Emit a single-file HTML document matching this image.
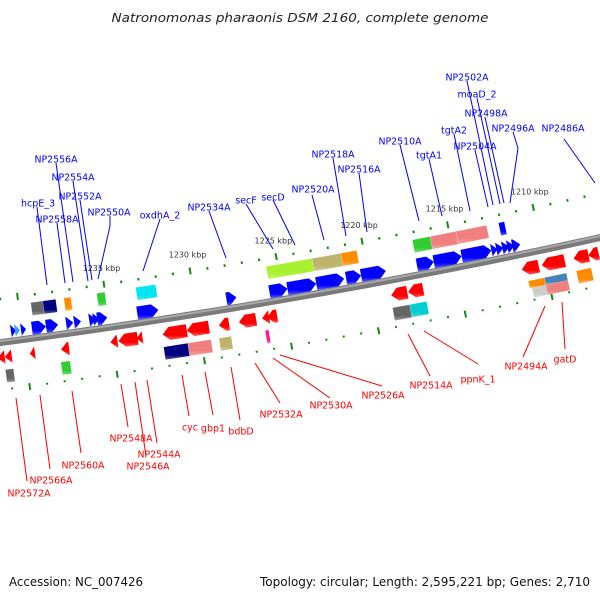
<!DOCTYPE html>
<html><head><meta charset="utf-8">
<style>
html,body{margin:0;padding:0;background:#fff;}
svg{display:block;}
text{font-family:"DejaVu Sans","Liberation Sans",sans-serif;}
</style></head>
<body>
<svg id="map" width="600" height="600" viewBox="0 0 600 600" xmlns="http://www.w3.org/2000/svg">
<defs id="defs"></defs>
<text x="300" y="22" text-anchor="middle" font-size="12" font-style="italic" fill="#222" textLength="377" lengthAdjust="spacingAndGlyphs">Natronomonas pharaonis DSM 2160, complete genome</text>
<g id="backbone-layer"></g>
<g id="tick-layer"></g>
<g id="gene-layer"></g>
<g id="label-layer"></g>
<text x="9" y="586" font-size="12" fill="#111" textLength="134" lengthAdjust="spacingAndGlyphs">Accession: NC_007426</text>
<text x="590" y="586" text-anchor="end" font-size="12" fill="#111" textLength="330" lengthAdjust="spacingAndGlyphs">Topology: circular; Length: 2,595,221 bp; Genes: 2,710</text>
</svg>
<script>
// ---- data (kbp) ----
const tickStart = 1204;
const tickEnd = 1243;
const tickLabelKbp = [1235, 1230, 1225, 1220, 1215, 1210];
const fwd1Genes = [[1240.64,1240.35],[1240.41,1240.12],[1240.06,1239.77],[1239.43,1238.62],[1238.62,1237.92],[1237.46,1237.05],[1237.0,1236.6],[1236.13,1235.73],[1235.9,1235.55],[1235.67,1235.09],[1233.36,1232.14],[1228.21,1227.63],[1225.72,1224.68],[1224.68,1223.01],[1223.01,1221.39],[1221.28,1220.41],[1220.41,1218.97],[1217.17,1216.19],[1216.19,1214.57],[1214.57,1212.84],[1212.84,1212.49],[1212.55,1212.15],[1212.2,1211.8],[1211.91,1211.51],[1211.62,1211.16]];
const fwd1Colors = ["#0000ff","#3ca0ff","#0000ff","#0000ff","#0000ff","#0000ff","#0000ff","#0000ff","#0000ff","#0000ff","#0000ff","#0000ff","#0000ff","#0000ff","#0000ff","#0000ff","#0000ff","#0000ff","#0000ff","#0000ff","#0000ff","#0000ff","#0000ff","#0000ff","#0000ff"];
const fwd2Genes = [[1239.30,1238.61],[1238.61,1237.86],[1237.39,1236.99],[1235.49,1235.02],[1233.23,1232.08],[1225.66,1223.0],[1223.0,1221.32],[1221.32,1220.4],[1217.16,1216.12],[1216.12,1214.62],[1214.62,1212.83],[1212.13,1211.79]];
const fwd2Colors = ["#666666","#000080","#ff8c00","#33cc33","#00e5ee","#a8f030","#bdb46b","#ff8c00","#33cc33","#f08080","#f08080","#0000ff"];
const rev1Genes = [[1241.59,1241.18],[1241.18,1240.78],[1239.74,1239.45],[1237.95,1237.49],[1235.12,1234.71],[1234.65,1233.55],[1233.61,1233.27],[1232.11,1230.72],[1230.72,1229.45],[1228.87,1228.29],[1227.72,1226.73],[1226.39,1225.98],[1226.1,1225.52],[1218.93,1218.0],[1217.95,1217.08],[1211.36,1210.38],[1210.2,1208.87],[1208.35,1207.48],[1207.49,1206.9]];
const rev2Genes = [[1241.24,1240.78],[1238.06,1237.54],[1232.17,1230.78],[1230.78,1229.45],[1228.99,1228.29],[1226.33,1226.13],[1218.99,1218.0],[1218.0,1217.02],[1211.13,1210.2],[1210.2,1208.93],[1208.35,1207.49]];
const rev2Colors = ["#666666","#33cc33","#000080","#f08080","#bdb46b","#ff1493","#666666","#00ced1","#ff8c00","#4682b4","#ff8c00"];
const rev3Genes = [[1211.0,1210.2],[1210.2,1208.93]];
const rev3Colors = ["#cccccc","#f08080"];
const fwdLabels = ["NP2502A","moaD_2","NP2498A","tgtA2","NP2496A","NP2486A","NP2510A","NP2504A","tgtA1","NP2518A","NP2516A","NP2556A","NP2554A","NP2520A","NP2552A","hcpE_3","secF","secD","NP2534A","NP2550A","oxdhA_2","NP2558A"];
const revLabels = ["NP2494A","gatD","ppnK_1","NP2514A","NP2526A","NP2530A","NP2532A","bdbD","gbp1","cyc","NP2548A","NP2544A","NP2546A","NP2560A","NP2566A","NP2572A"];
// label layout (pixels): text centre, and leader line points
const fwdLabelPos = [[467,77],[477,94],[486,113],[454,130],[513,128],[563,128],[400,141],[475,146],[429,155],[333,154],[359,169],[56,159],[73,177],[313,189],[80,196],[38,203],[246,200],[273,197],[209,207],[109,212],[160,215],[57,219]];
const fwdLines = [[[467,81],[493,205]],[[477,98],[500,204]],[[485,117],[504,203]],[[454,134],[470,211]],[[513,132],[518,148],[510,203]],[[564,139],[595,183]],[[400,145],[419,221]],[[475,150],[488,207]],[[429,159],[442,216]],[[333,158],[346,236]],[[359,173],[367,232]],[[56,163],[73,282]],[[73,181],[88,281]],[[312,195],[324,240]],[[80,200],[92,280]],[[37,207],[47,285]],[[246,204],[273,249]],[[273,200],[295,245]],[[209,211],[226,258]],[[110,216],[110,226],[98,279]],[[160,219],[143,271]],[[57,223],[65,283]]];
const revLabelPos = [[526,366],[565,359],[478,379],[431,385],[383,395],[331,405],[281,414],[241,431],[213,428],[190,427],[131,438],[159,454],[148,466],[83,465],[51,480],[29,493]];
const revLines = [[[545,306],[523,357]],[[562,302],[565,349]],[[424,331],[478,364]],[[408,334],[430,376]],[[280,355],[382,386]],[[273,358],[330,398]],[[255,363],[280,403]],[[231,367],[240,420]],[[205,372],[213,415]],[[182,375],[189,416]],[[121,384],[128,427]],[[147,380],[157,443]],[[135,382],[146,456]],[[72,391],[81,453]],[[40,395],[50,469]],[[16,398],[27,481]]];

// ---- scale ----
const CX = -949, CY = -6846, RAD = 7251;
function P(k, v){
  const a = (81.6 - (1235 - k) * 0.1387) * Math.PI / 180;
  const r = RAD + v;
  return [CX + r * Math.cos(a), CY + r * Math.sin(a)];
}
const NS = "http://www.w3.org/2000/svg";
function mk(tag, attrs, parent){
  const e = document.createElementNS(NS, tag);
  for (const k in attrs) e.setAttribute(k, attrs[k]);
  parent.appendChild(e);
  return e;
}
function pts(list){ return list.map(p => p[0].toFixed(2) + "," + p[1].toFixed(2)).join(" "); }

const defs = document.getElementById("defs");
const gradIds = {};
function lighten(hex, f){
  const n = parseInt(hex.slice(1), 16);
  let r = (n >> 16) & 255, g = (n >> 8) & 255, b = n & 255;
  r = Math.round(r + (255 - r) * f); g = Math.round(g + (255 - g) * f); b = Math.round(b + (255 - b) * f);
  return "rgb(" + r + "," + g + "," + b + ")";
}
function grad(c){
  if (gradIds[c]) return "url(#" + gradIds[c] + ")";
  const id = "g" + Object.keys(gradIds).length;
  gradIds[c] = id;
  const lg = mk("linearGradient", {id: id, x1: 0, y1: 0, x2: 0, y2: 1}, defs);
  mk("stop", {offset: "0", "stop-color": lighten(c, 0) }, lg);
  mk("stop", {offset: "0.7", "stop-color": c}, lg);
  mk("stop", {offset: "1", "stop-color": lighten(c, 0.35)}, lg);
  return "url(#" + id + ")";
}

// ---- backbone ----
const bb = document.getElementById("backbone-layer");
const bbPts = [];
for (let k = 1245; k >= 1202; k -= 0.5) bbPts.push(P(k, 0));
const bbLine = mk("polyline", {points: pts(bbPts), fill: "none", stroke: "#7a7a7a", "stroke-width": 7}, bb);


const bbTop = [];
for (let k = 1245; k >= 1202; k -= 0.5) bbTop.push(P(k, -1.5));
const bbHi = mk("polyline", {points: pts(bbTop), fill: "none", stroke: "#a8a8a8", "stroke-width": 2}, bb);



// ---- ticks ----
const tl = document.getElementById("tick-layer");
for (let k = tickStart; k <= tickEnd; k++){
  const major = (k % 5 === 0);
  [[-43, major ? -47 : -44.5, major ? -40 : -42], [47, major ? 44 : 46, major ? 51 : 48]].forEach(function(t, i){
    const a = P(k, t[1]), b = P(k, t[2]);
    const ln = mk("line", {x1: a[0], y1: a[1], x2: b[0], y2: b[1], stroke: "#138a13", "stroke-width": 2}, tl);
    
    
  });
}
tickLabelKbp.forEach(function(k){
  const p = P(k, -60);
  const t = mk("text", {x: p[0], y: p[1] + 3, "text-anchor": "middle", "font-size": 8, fill: "#333"}, tl);
  t.textContent = k + " kbp";
  
  
});

// ---- genes ----
const gl = document.getElementById("gene-layer");
function arrowFwd(g, v0, v1){
  const hi = g[0], lo = g[1], h = Math.min(0.38, hi - lo), m = (v0 + v1) / 2;
  return [P(hi, v0), P(lo + h, v0), P(lo, m), P(lo + h, v1), P(hi, v1)];
}
function arrowRev(g, v0, v1){
  const hi = g[0], lo = g[1], h = Math.min(0.38, hi - lo), m = (v0 + v1) / 2;
  return [P(lo, v0), P(hi - h, v0), P(hi, m), P(hi - h, v1), P(lo, v1)];
}
function box(g, v0, v1){
  return [P(g[0], v0), P(g[1], v0), P(g[1], v1), P(g[0], v1)];
}
rev3Genes.forEach(function(g, i){
  const e = mk("polygon", {points: pts(box(g, 35, 45)), fill: grad(rev3Colors[i])}, gl);
  
  
});
fwd1Genes.forEach(function(g, i){
  const e = mk("polygon", {points: pts(arrowFwd(g, -16.5, -3.5)), fill: grad(fwd1Colors[i])}, gl);
  
  
});
fwd2Genes.forEach(function(g, i){
  const e = mk("polygon", {points: pts(box(g, -35.5, -22.5)), fill: grad(fwd2Colors[i]), stroke: "rgba(255,255,255,0.4)", "stroke-width": 0.5}, gl);
  
  
});
rev1Genes.forEach(function(g){
  const e = mk("polygon", {points: pts(arrowRev(g, 8.5, 21.5)), fill: grad("#ff0000")}, gl);
  
  
});
rev2Genes.forEach(function(g, i){
  const stacked = (i === 8 || i === 9);
  const e = mk("polygon", {points: pts(box(g, 27.5, stacked ? 35 : 40.5)), fill: grad(rev2Colors[i]), stroke: "rgba(255,255,255,0.4)", "stroke-width": 0.5}, gl);
  
  
});

// ---- labels ----
const ll = document.getElementById("label-layer");
function drawLabels(names, pos, lines, color, side){
  names.forEach(function(n, i){
    const pl = mk("polyline", {points: pts(lines[i]), fill: "none", stroke: color, "stroke-width": 1}, ll);
    
    
    const t = mk("text", {x: pos[i][0], y: pos[i][1] + 3.5, "text-anchor": "middle", "font-size": 9.5, fill: color}, ll);
    if (/^NP/.test(n)) { t.setAttribute("textLength", 43); t.setAttribute("lengthAdjust", "spacingAndGlyphs"); }
    t.textContent = n;
    
    
  });
}
drawLabels(fwdLabels, fwdLabelPos, fwdLines, "#0000ff", "forward");
drawLabels(revLabels, revLabelPos, revLines, "#ff0000", "reverse");
</script>
</body></html>
